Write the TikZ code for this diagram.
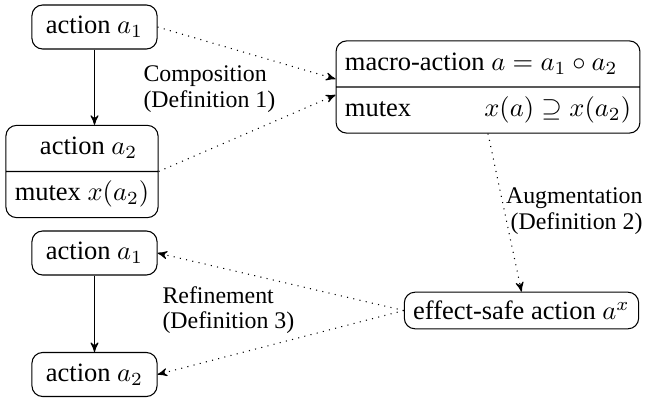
\documentclass[tikz,border=0pt]{standalone}
\usepackage{fontspec}
\setmainfont{Liberation Serif}
\usepackage{amssymb,amsmath}
\usetikzlibrary{arrows}
\usetikzlibrary{shapes.multipart}

\begin{document}
\begin{tikzpicture}[x=0.3774pt,y=-0.3774pt,>=stealth']
	\tikzstyle{act}=[draw,rounded corners=4pt,inner sep=3.33pt,minimum width=47.2pt,minimum height=16.6pt]
	\tikzstyle{splitbox}=[draw,rounded corners=4pt,rectangle split,rectangle split parts=2,inner xsep=3.33pt,inner ysep=2.5pt]
	\tikzstyle{lbl}=[font=\fontsize{9}{9.6}\selectfont,inner sep=0pt]
	\useasboundingbox (0,0) rectangle (645,403);

	\node[act] (a1) at (94.5,27) {action $a_1$};
	\node[splitbox] (a2) at (82,171.5) {\strut\hspace*{5pt}action $a_2$\nodepart{two}\strut mutex $x(a_2)$};
	\node[splitbox,rectangle split part align={left}] (macro) at (488,87)
		{\strut macro-action $a = a_1\circ a_2$\nodepart{two}\strut\makebox[108pt]{mutex\hfill$x(a)\supseteq x(a_2)$}};
	\node[draw,rounded corners=4pt] (safe) at (521.5,310.5) {effect-safe action $a^x$};
	\node[act] (b1) at (94.5,253) {action $a_1$};
	\node[act] (b2) at (94.5,374.5) {action $a_2$};

	\node[lbl,anchor=west,align=left] (comp) at (143,89) {Composition\\(Definition 1)};
	\node[lbl,anchor=east,align=right] (aug) at (643,211) {Augmentation\\(Definition 2)};
	\node[lbl,anchor=west,align=left] (refine) at (162,310) {Refinement\\(Definition 3)};

	\draw[->] (a1) -- (a1 |- a2.north);
	\draw[->] (b1) -- (b2);

	\path[->,dotted]
	(a1.east) edge ([yshift=3pt]macro.west)
	(a2.east) edge ([yshift=-3pt]macro.west)
	(macro.south) edge (safe.north)
	(safe.west) edge (b1.east)
	(safe.west) edge (b2.east);
\end{tikzpicture}
\end{document}
